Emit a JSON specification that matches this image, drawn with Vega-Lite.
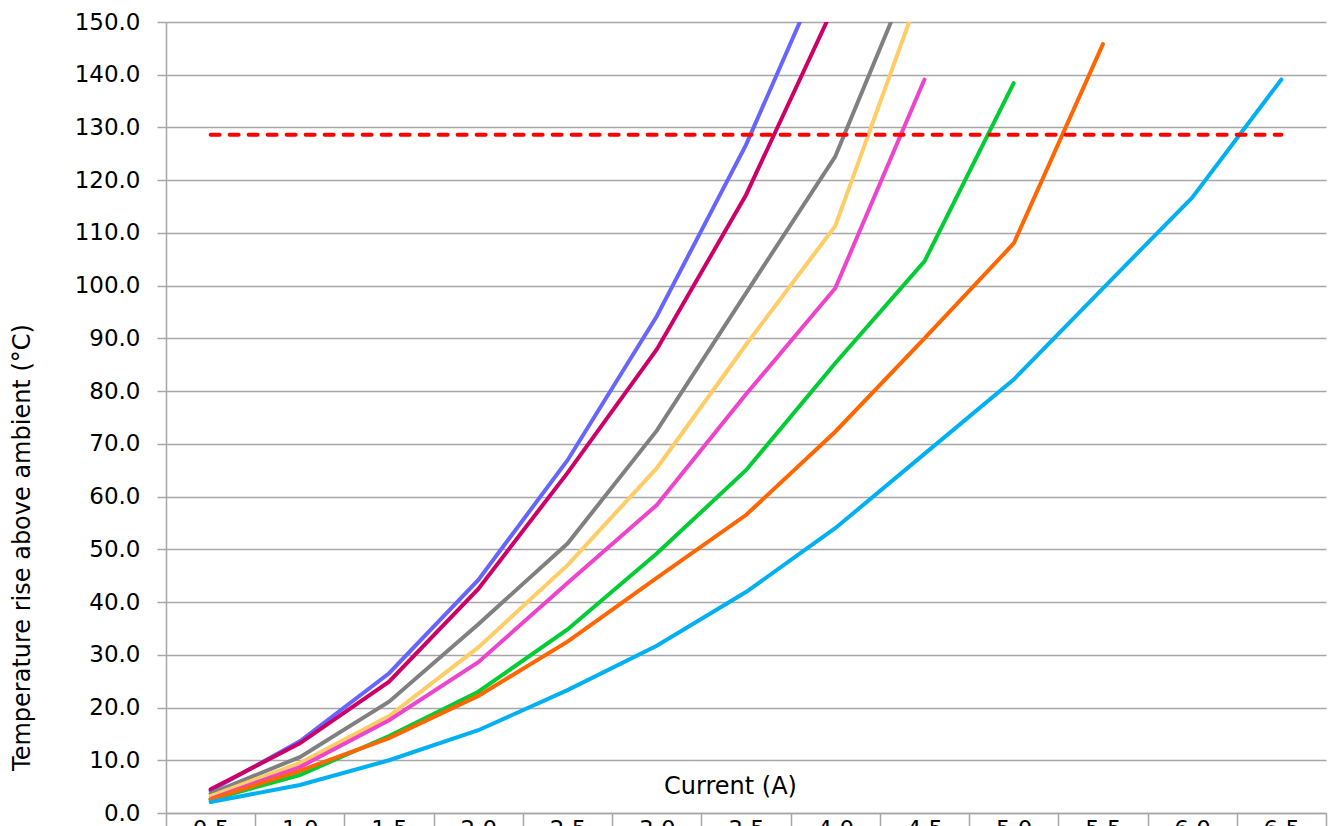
{
  "$schema": "https://vega.github.io/schema/vega-lite/v6.json",
  "autosize": "none",
  "padding": {"left": 166, "top": 22, "right": 6, "bottom": 13},
  "width": 1160,
  "height": 791,
  "background": "white",
  "config": {
    "view": {"stroke": null},
    "font": "DejaVu Sans",
    "axis": {
      "labelFont": "DejaVu Sans",
      "titleFont": "DejaVu Sans",
      "labelColor": "#000000",
      "titleColor": "#000000",
      "labelFontSize": 23,
      "titleFontSize": 23,
      "titleFontWeight": "normal",
      "domainColor": "#A6A6A6",
      "tickColor": "#A6A6A6",
      "gridColor": "#A6A6A6",
      "domainWidth": 1.5,
      "tickWidth": 1.5,
      "gridWidth": 1.5
    }
  },
  "datasets": {
    "curves": [
      {"current": "0.5", "series": "S1", "temp": 4.2},
      {"current": "1.0", "series": "S1", "temp": 13.6},
      {"current": "1.5", "series": "S1", "temp": 26.5},
      {"current": "2.0", "series": "S1", "temp": 44.2},
      {"current": "2.5", "series": "S1", "temp": 66.9},
      {"current": "3.0", "series": "S1", "temp": 94.2},
      {"current": "3.5", "series": "S1", "temp": 126.7},
      {"current": "4.0", "series": "S1", "temp": 165.3},
      {"current": "0.5", "series": "S2", "temp": 4.5},
      {"current": "1.0", "series": "S2", "temp": 13.2},
      {"current": "1.5", "series": "S2", "temp": 24.9},
      {"current": "2.0", "series": "S2", "temp": 42.5},
      {"current": "2.5", "series": "S2", "temp": 64.5},
      {"current": "3.0", "series": "S2", "temp": 87.9},
      {"current": "3.5", "series": "S2", "temp": 117.2},
      {"current": "4.0", "series": "S2", "temp": 153.5},
      {"current": "0.5", "series": "S3", "temp": 3.7},
      {"current": "1.0", "series": "S3", "temp": 10.6},
      {"current": "1.5", "series": "S3", "temp": 21.1},
      {"current": "2.0", "series": "S3", "temp": 35.8},
      {"current": "2.5", "series": "S3", "temp": 51.1},
      {"current": "3.0", "series": "S3", "temp": 72.5},
      {"current": "3.5", "series": "S3", "temp": 98.6},
      {"current": "4.0", "series": "S3", "temp": 124.5},
      {"current": "4.5", "series": "S3", "temp": 165.3},
      {"current": "0.5", "series": "S4", "temp": 3.2},
      {"current": "1.0", "series": "S4", "temp": 9.5},
      {"current": "1.5", "series": "S4", "temp": 18.4},
      {"current": "2.0", "series": "S4", "temp": 31.4},
      {"current": "2.5", "series": "S4", "temp": 47.0},
      {"current": "3.0", "series": "S4", "temp": 65.4},
      {"current": "3.5", "series": "S4", "temp": 88.8},
      {"current": "4.0", "series": "S4", "temp": 111.3},
      {"current": "4.5", "series": "S4", "temp": 158.0},
      {"current": "0.5", "series": "S5", "temp": 2.7},
      {"current": "1.0", "series": "S5", "temp": 8.7},
      {"current": "1.5", "series": "S5", "temp": 17.6},
      {"current": "2.0", "series": "S5", "temp": 28.6},
      {"current": "2.5", "series": "S5", "temp": 43.6},
      {"current": "3.0", "series": "S5", "temp": 58.4},
      {"current": "3.5", "series": "S5", "temp": 79.4},
      {"current": "4.0", "series": "S5", "temp": 99.5},
      {"current": "4.5", "series": "S5", "temp": 139.1},
      {"current": "0.5", "series": "S6", "temp": 2.5},
      {"current": "1.0", "series": "S6", "temp": 7.2},
      {"current": "1.5", "series": "S6", "temp": 14.6},
      {"current": "2.0", "series": "S6", "temp": 23.0},
      {"current": "2.5", "series": "S6", "temp": 34.8},
      {"current": "3.0", "series": "S6", "temp": 49.2},
      {"current": "3.5", "series": "S6", "temp": 65.0},
      {"current": "4.0", "series": "S6", "temp": 85.3},
      {"current": "4.5", "series": "S6", "temp": 104.6},
      {"current": "5.0", "series": "S6", "temp": 138.4},
      {"current": "0.5", "series": "S7", "temp": 2.6},
      {"current": "1.0", "series": "S7", "temp": 8.0},
      {"current": "1.5", "series": "S7", "temp": 14.2},
      {"current": "2.0", "series": "S7", "temp": 22.2},
      {"current": "2.5", "series": "S7", "temp": 32.5},
      {"current": "3.0", "series": "S7", "temp": 44.6},
      {"current": "3.5", "series": "S7", "temp": 56.5},
      {"current": "4.0", "series": "S7", "temp": 72.3},
      {"current": "4.5", "series": "S7", "temp": 90.0},
      {"current": "5.0", "series": "S7", "temp": 108.0},
      {"current": "5.5", "series": "S7", "temp": 145.8},
      {"current": "0.5", "series": "S8", "temp": 2.1},
      {"current": "1.0", "series": "S8", "temp": 5.3},
      {"current": "1.5", "series": "S8", "temp": 10.0},
      {"current": "2.0", "series": "S8", "temp": 15.7},
      {"current": "2.5", "series": "S8", "temp": 23.3},
      {"current": "3.0", "series": "S8", "temp": 31.7},
      {"current": "3.5", "series": "S8", "temp": 41.9},
      {"current": "4.0", "series": "S8", "temp": 54.0},
      {"current": "4.5", "series": "S8", "temp": 68.1},
      {"current": "5.0", "series": "S8", "temp": 82.2},
      {"current": "5.5", "series": "S8", "temp": 99.5},
      {"current": "6.0", "series": "S8", "temp": 116.7},
      {"current": "6.5", "series": "S8", "temp": 139.1}
    ],
    "limit": [
      {"current": "0.5", "temp": 128.6},
      {"current": "1.0", "temp": 128.6},
      {"current": "1.5", "temp": 128.6},
      {"current": "2.0", "temp": 128.6},
      {"current": "2.5", "temp": 128.6},
      {"current": "3.0", "temp": 128.6},
      {"current": "3.5", "temp": 128.6},
      {"current": "4.0", "temp": 128.6},
      {"current": "4.5", "temp": 128.6},
      {"current": "5.0", "temp": 128.6},
      {"current": "5.5", "temp": 128.6},
      {"current": "6.0", "temp": 128.6},
      {"current": "6.5", "temp": 128.6}
    ]
  },
  "encoding": {
    "x": {
      "field": "current",
      "type": "ordinal",
      "scale": {"type": "band", "paddingInner": 0, "paddingOuter": 0,
        "domain": ["0.5","1.0","1.5","2.0","2.5","3.0","3.5","4.0","4.5","5.0","5.5","6.0","6.5"]},
      "axis": {
        "title": "Current (A)",
        "titleX": 564,
        "titleY": -27,
        "titleBaseline": "middle",
        "titleAlign": "center",
        "titleFontSize": 24,
        "tickBand": "extent",
        "tickSize": 16,
        "labelPadding": -11,
        "labelAngle": 0,
        "labelBaseline": "top",
        "grid": false
      }
    },
    "y": {
      "field": "temp",
      "type": "quantitative",
      "scale": {"domain": [0, 150], "nice": false, "zero": true},
      "axis": {
        "title": "Temperature rise above ambient (°C)",
        "titleX": -144,
        "titleY": 525,
        "titleAngle": -90,
        "titleBaseline": "middle",
        "titleAlign": "center",
        "titleFontSize": 24,
        "values": [0,10,20,30,40,50,60,70,80,90,100,110,120,130,140,150],
        "format": ".1f",
        "tickSize": 9,
        "labelPadding": 17,
        "grid": true
      }
    }
  },
  "layer": [
    {
      "data": {"name": "curves"},
      "mark": {"type": "line", "strokeWidth": 4, "clip": true, "strokeCap": "round"},
      "encoding": {
        "color": {
          "field": "series",
          "type": "nominal",
          "legend": null,
          "scale": {
            "domain": ["S1","S2","S3","S4","S5","S6","S7","S8"],
            "range": ["#6666FF","#CC0066","#808080","#FFCC66","#EE44CC","#00CC33","#FF6600","#00B0F0"]
          }
        }
      }
    },
    {
      "data": {"name": "limit"},
      "mark": {"type": "line", "strokeWidth": 4, "color": "#FF0000", "strokeDash": [9, 10], "strokeCap": "round"},
      "encoding": {}
    }
  ]
}
